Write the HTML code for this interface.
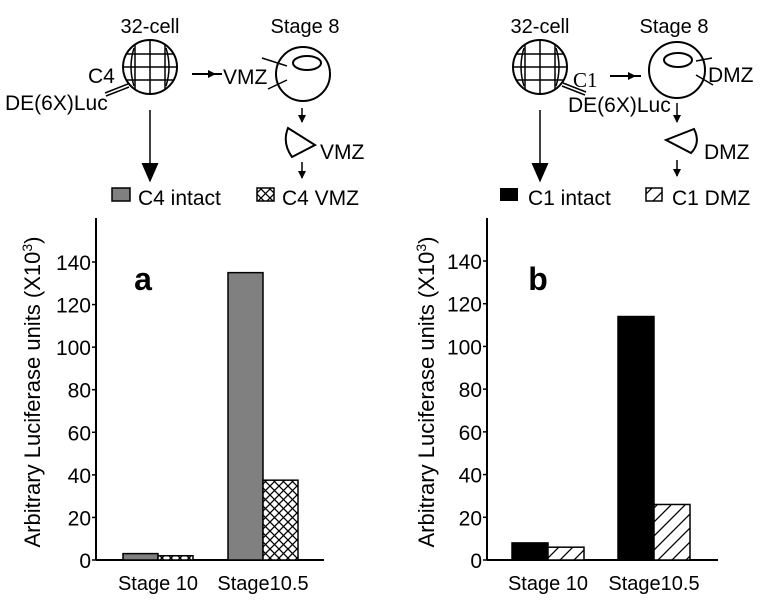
<!DOCTYPE html>
<html><head><meta charset="utf-8"><style>
body{margin:0;background:#fff}
svg{display:block;font-family:"Liberation Sans",Arial,sans-serif}
</style></head><body>
<svg id="fig" width="766" height="607" viewBox="0 0 766 607">
<defs>
<pattern id="cross" patternUnits="userSpaceOnUse" width="9" height="9">
<rect width="9" height="9" fill="#fff"/><path d="M0,0L9,9M9,0L0,9" stroke="#000" stroke-width="1.3"/></pattern>
<pattern id="diag" patternUnits="userSpaceOnUse" width="14" height="14">
<rect width="14" height="14" fill="#fff"/><path d="M-2,16L16,-2M-2,2L2,-2M12,16L16,12" stroke="#000" stroke-width="1.3"/></pattern>
<marker id="ah" markerWidth="8" markerHeight="8" refX="7" refY="4" orient="auto" markerUnits="userSpaceOnUse"><path d="M0,0L8,4L0,8z" fill="#000"/></marker>
</defs>
<g fill="none" stroke="#000" stroke-width="2">
<text x="150" y="33" font-size="20" text-anchor="middle" fill="#000" stroke="none">32-cell</text>
<circle cx="150" cy="67" r="27"/>
<path d="M135,44V90M150,40V94M165,44V90M126,54H174M123,67H177M126,80H174" stroke-width="1.5"/>
<path d="M134,48Q128,67 134,86M166,48Q172,67 166,86" stroke-width="1.5"/>
<path d="M105,93L128,84M106,96L129,87" stroke-width="1.5"/>
<text x="88" y="83" font-size="21" fill="#000" stroke="none">C4</text>
<text x="5" y="110" font-size="21" fill="#000" stroke="none">DE(6X)Luc</text>
<path d="M192,74H215" marker-end="url(#ah)"/><path d="M215,74L222,74"/>
<text x="223" y="84" font-size="21" fill="#000" stroke="none">VMZ</text>
<text x="305" y="33" font-size="20" text-anchor="middle" fill="#000" stroke="none">Stage 8</text>
<circle cx="303" cy="74" r="27"/><ellipse cx="307" cy="63" rx="14" ry="7"/>
<path d="M262,58L287,66M268,89L287,80" stroke-width="1.5"/>
<path d="M302,108V122" stroke-width="1.5" marker-end="url(#ah)"/>
<path d="M288,128Q282,143 292,157L315,145Z"/>
<text x="320" y="159" font-size="21" fill="#000" stroke="none">VMZ</text>
<path d="M302,162V178" stroke-width="1.5" marker-end="url(#ah)"/>
<path d="M150,110V178" stroke-width="1.5"/><path d="M143,164L150,180L157,164Z" fill="#000"/>
</g>
<g>
<rect x="112" y="188" width="18" height="13" fill="#808080" stroke="#000" stroke-width="1.5"/>
<text x="138" y="205" font-size="21">C4 intact</text>
<rect x="257" y="188" width="17" height="13" fill="url(#cross)" stroke="#000" stroke-width="1.5"/>
<text x="282" y="205" font-size="21">C4 VMZ</text>
</g>
<g fill="none" stroke="#000" stroke-width="2">
<text x="540" y="33" font-size="20" text-anchor="middle" fill="#000" stroke="none">32-cell</text>
<circle cx="540" cy="67" r="27"/>
<path d="M525,44V90M540,40V94M555,44V90M516,54H564M513,67H567M516,80H564" stroke-width="1.5"/>
<path d="M524,48Q518,67 524,86M556,48Q562,67 556,86" stroke-width="1.5"/>
<path d="M562,86L585,95M563,83L586,92" stroke-width="1.5"/>
<text x="573" y="87" font-size="21" font-family="Liberation Serif" fill="#000" stroke="none">C1</text>
<path d="M610,76H635" marker-end="url(#ah)"/><path d="M635,76L641,76"/>
<text x="568" y="112" font-size="21" fill="#000" stroke="none">DE(6X)Luc</text>
<text x="674" y="33" font-size="20" text-anchor="middle" fill="#000" stroke="none">Stage 8</text>
<circle cx="677" cy="70" r="28"/><ellipse cx="678" cy="60" rx="14" ry="7"/>
<path d="M696,61L712,58M696,75L713,85" stroke-width="1.5"/>
<text x="708" y="82" font-size="21" fill="#000" stroke="none">DMZ</text>
<path d="M677,103V122" stroke-width="1.5" marker-end="url(#ah)"/>
<path d="M694,129Q701,143 691,153L666,140Z"/>
<text x="704" y="159" font-size="21" fill="#000" stroke="none">DMZ</text>
<path d="M677,160V176" stroke-width="1.5" marker-end="url(#ah)"/>
<path d="M540,110V178" stroke-width="1.5"/><path d="M533,164L540,180L547,164Z" fill="#000"/>
</g>
<g>
<rect x="500" y="188" width="18" height="13" fill="#000"/>
<text x="528" y="205" font-size="21">C1 intact</text>
<rect x="646" y="188" width="16" height="13" fill="url(#diag)" stroke="#000" stroke-width="1.5"/>
<text x="672" y="205" font-size="21">C1 DMZ</text>
</g>
<g id="charts"></g>
</svg>
<script>
const categories = ["Stage 10", "Stage10.5"];
const yTicks = [0, 20, 40, 60, 80, 100, 120, 140];
const c4Intact = [3, 135];
const c4Vmz = [2, 37.5];
const c1Intact = [8, 114];
const c1Dmz = [6, 26];

const NS = "http://www.w3.org/2000/svg";
const root = document.getElementById("charts");
function mk(tag, attrs, parent){
  const e = document.createElementNS(NS, tag);
  for (const k in attrs) e.setAttribute(k, attrs[k]);
  (parent||root).appendChild(e);
  return e;
}
function drawPanel(p){
  const g = mk("g", {});
  
  
  const y = v => p.y0 - v * (p.y0 - p.y140) / 140;
  const ax = mk("line", {x1:p.ax, y1:218, x2:p.ax, y2:p.y0, stroke:"#000", "stroke-width":2}, g);
  
  
  const xl = mk("line", {x1:p.ax, y1:p.y0, x2:p.xEnd, y2:p.y0, stroke:"#000", "stroke-width":2}, g);
  
  
  yTicks.forEach(t => {
    const tk = mk("line", {x1:p.ax-4, y1:y(t), x2:p.ax, y2:y(t), stroke:"#000", "stroke-width":1.5}, g);
    
    
    const tl = mk("text", {x:p.ax-5, y:y(t)+8, "font-size":21, "text-anchor":"end"}, g);
    tl.textContent = t;
    
    
  });
  const tt = mk("text", {x:0, y:0, "font-size":22, "text-anchor":"middle", transform:`translate(${p.titleX},392) rotate(-90)`}, g);
  tt.textContent = "Arbitrary Luciferase units (X10";
  const sup = mk("tspan", {"font-size":14, dy:-8}, tt); sup.textContent = "3";
  const cl = mk("tspan", {dy:8}, tt); cl.textContent = ")";
  
  
  const lt = mk("text", {x:p.letterX, y:290, "font-size":32, "font-weight":"bold", "text-anchor":"middle"}, g);
  lt.textContent = p.id;
  
  
  categories.forEach((c, i) => {
    const x0 = p.groupX[i];
    const v1 = p.s1[i], v2 = p.s2[i];
    const b1 = mk("rect", {x:x0, y:y(v1), width:p.bw, height:p.y0-y(v1), fill:p.fill1, stroke:"#000", "stroke-width":1.5}, g);
    
    
    const b2 = mk("rect", {x:x0+p.bw, y:y(v2), width:p.bw, height:p.y0-y(v2), fill:p.fill2, stroke:"#000", "stroke-width":1.5}, g);
    
    
    const lab = mk("text", {x:x0+p.bw, y:590, "font-size":20, "text-anchor":"middle"}, g);
    lab.textContent = c;
    
    
  });
}
drawPanel({id:"a", ax:96, xEnd:324, y0:560, y140:262, titleX:40, letterX:143,
  groupX:[123, 228], bw:35, s1:c4Intact, s2:c4Vmz, fill1:"#808080", fill2:"url(#cross)", n1:"c4-intact", n2:"c4-vmz"});
drawPanel({id:"b", ax:487, xEnd:718, y0:560, y140:261, titleX:434, letterX:538,
  groupX:[512, 618], bw:36, s1:c1Intact, s2:c1Dmz, fill1:"#000", fill2:"url(#diag)", n1:"c1-intact", n2:"c1-dmz"});
</script>
</body></html>
